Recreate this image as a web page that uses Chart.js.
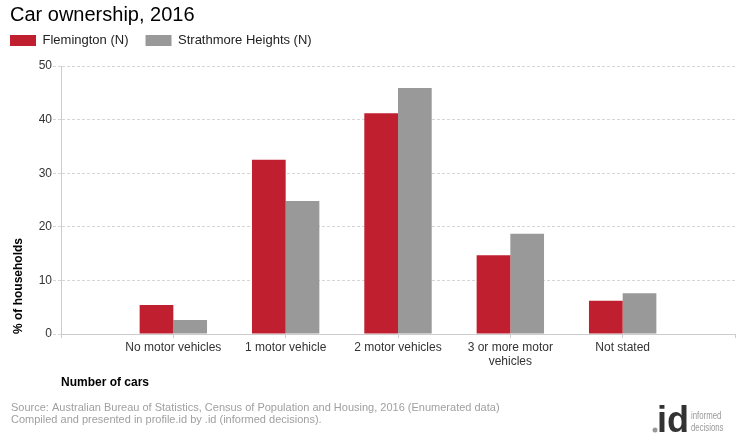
<!DOCTYPE html>
<html>
<head>
<meta charset="utf-8">
<script src="https://cdn.jsdelivr.net/npm/chart.js"></script>
<style>
  html, body { margin: 0; padding: 0; background: #fff; }
  #wrap { width: 740px; height: 440px; position: relative; }
</style>
</head>
<body>
<div id="wrap"><canvas id="carChart" width="740" height="440"></canvas></div>
<script>
// categorias del eje x
const categories = ['No motor vehicles', '1 motor vehicle', '2 motor vehicles', ['3 or more motor', 'vehicles'], 'Not stated'];
// % of households
const flemington = [5.4, 32.5, 41.2, 14.7, 6.2];
const strathmore = [2.6, 24.8, 45.9, 18.7, 7.6];
const yTicks = [0, 10, 20, 30, 40, 50];

const FONT = 'Arial, "Liberation Sans", sans-serif';

// Fuente y logo debajo del grafico
const footerPlugin = {
    id: 'footer',
    afterDraw(chart) {
        const ctx = chart.ctx;
        ctx.save();
        ctx.fillStyle = '#a0a0a0';
        ctx.font = '11px ' + FONT;
        ctx.textBaseline = 'middle';
        ctx.textAlign = 'left';
        ctx.fillText('Source: Australian Bureau of Statistics, Census of Population and Housing, 2016 (Enumerated data)', 11, 408);
        ctx.fillText('Compiled and presented in profile.id by .id (informed decisions).', 11, 420);

        // logo .id
        ctx.fillStyle = '#999';
        ctx.beginPath();
        ctx.arc(655, 430, 2.5, 0, Math.PI * 2);
        ctx.fill();
        ctx.textBaseline = 'alphabetic';
        ctx.font = 'bold 36px ' + FONT;
        ctx.fillStyle = '#333';
        ctx.fillText('id', 657, 432);
        ctx.fillStyle = '#999';
        ctx.font = '10px "Liberation Sans Narrow", ' + FONT;
        ctx.textBaseline = 'middle';
        ctx.save();
        ctx.translate(691, 0);
        ctx.scale(0.78, 1);
        ctx.fillText('informed', 0, 416);
        ctx.fillText('decisions', 0, 428);
        ctx.restore();
        ctx.restore();
    }
};

// deja la leyenda con la altura justa para que el area empiece en y=66
const legendSpacer = {
    id: 'legendSpacer',
    beforeUpdate(chart) {
        const legend = chart.legend;
        if (legend && !legend._patched) {
            const fit = legend.fit;
            legend.fit = function () {
                fit.call(this);
                this.height = 32;
            };
            legend._patched = true;
        }
    }
};

const ctx = document.getElementById('carChart').getContext('2d');
new Chart(ctx, {
    type: 'bar',
    data: {
        datasets: [{
            label: 'Flemington (N)',
            data: flemington.map((v, i) => ({ x: i, y: v })),
            backgroundColor: '#C01F2F'
        }, {
            label: 'Strathmore Heights (N)',
            data: strathmore.map((v, i) => ({ x: i, y: v })),
            backgroundColor: '#999999'
        }]
    },
    options: {
        responsive: false,
        animation: false,
        categoryPercentage: 0.6,
        barPercentage: 1,
        layout: { padding: { left: 10, right: 5, top: 3, bottom: 50 } },
        plugins: {
            tooltip: { enabled: false },
            title: {
                display: true,
                text: 'Car ownership, 2016',
                align: 'start',
                color: '#000',
                font: { family: FONT, size: 20, weight: 'normal' },
                padding: { top: 0, bottom: 7 }
            },
            legend: {
                display: true,
                align: 'start',
                labels: {
                    boxWidth: 26,
                    boxHeight: 11,
                    padding: 0,
                    color: '#222',
                    font: { family: FONT, size: 13 },
                    generateLabels(chart) {
                        const items = Chart.defaults.plugins.legend.labels.generateLabels(chart);
                        items.forEach((it, i) => {
                            it.lineWidth = 0;
                            if (i < items.length - 1) it.text = it.text + '    \u2009';
                        });
                        return items;
                    }
                }
            }
        },
        scales: {
            x: {
                type: 'linear',
                min: -1,
                max: 5,
                offset: false,
                afterFit(scale) { scale.height = 56; },
                ticks: {
                    stepSize: 1,
                    autoSkip: false,
                    maxRotation: 0,
                    padding: 2,
                    color: '#333',
                    font: { family: FONT, size: 12 },
                    callback: v => (categories[v] !== undefined ? categories[v] : '')
                },
                grid: {
                    offset: false,
                    drawOnChartArea: false,
                    drawTicks: true,
                    tickLength: 4,
                    color: '#ccc'
                },
                border: { display: true, color: '#ccc', width: 1 },
                title: {
                    display: true,
                    text: 'Number of cars',
                    align: 'start',
                    color: '#000',
                    font: { family: FONT, size: 12, weight: 'bold' },
                    padding: { top: 0, bottom: 0 }
                }
            },
            y: {
                min: 0,
                max: 50,
                afterFit(scale) { scale.width = 51; },
                afterBuildTicks(scale) { scale.ticks = yTicks.map(v => ({ value: v })); },
                ticks: {
                    padding: 1,
                    color: '#333',
                    font: { family: FONT, size: 12 }
                },
                grid: {
                    color: '#d6d6d6',
                    tickBorderDash: [3, 2],
                    tickLength: 8
                },
                border: { display: true, color: '#ccc', width: 1, dash: [3, 2] },
                title: {
                    display: true,
                    text: '% of households',
                    align: 'start',
                    color: '#000',
                    font: { family: FONT, size: 12, weight: 'bold' },
                    padding: { top: 1, bottom: 0 }
                }
            }
        }
    },
    plugins: [legendSpacer, footerPlugin]
});
</script>
</body>
</html>
